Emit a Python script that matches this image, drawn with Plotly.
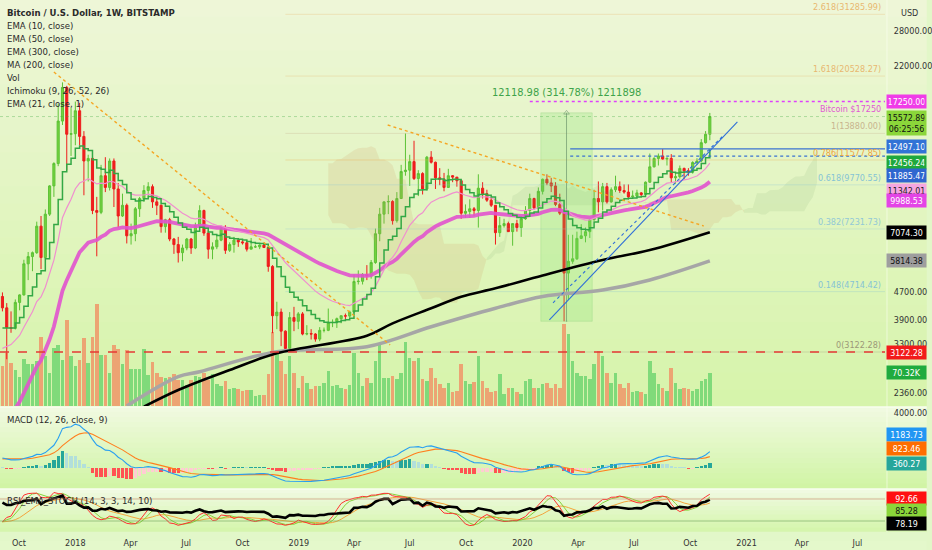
import numpy as np
import pandas as pd
import plotly.graph_objects as go

# ---------------- data (weekly candles, BITSTAMP BTCUSD) ----------------
FIRST_WEEK = "2017-09-04"

OPEN = [4560, 4220, 3690, 3670, 4380, 4610, 5700, 5990, 6150, 7370,
        5950, 8000, 9700, 11300, 15100, 19000, 13800, 13850, 16200, 13600,
        11500, 11700, 8200, 8100, 10400, 9600, 11500, 9500, 7900, 8500,
        6900, 7000, 8300, 8900, 9400, 9650, 8700, 8500, 7350, 7700,
        6750, 6500, 6150, 6350, 6750, 6350, 7400, 8200, 7030, 6300,
        6400, 6700, 7250, 6250, 6500, 6700, 6620, 6580, 6300, 6400,
        6400, 6480, 6370, 5600, 4000, 4100, 3600, 3200, 3950, 3850,
        4050, 3530, 3540, 3530, 3410, 3620, 3620, 3820, 3820, 3920,
        4000, 3990, 4100, 5050, 5060, 5300, 5250, 5750, 7000, 8000,
        8700, 8720, 7650, 8900, 10700, 10800, 11450, 10200, 10550, 9500,
        11800, 11400, 10250, 10150, 9600, 10400, 10300, 10050, 8050, 8150,
        8300, 8200, 9550, 9200, 8800, 8500, 7050, 7400, 7500, 7100,
        7500, 7300, 7750, 8200, 8900, 8350, 9350, 10150, 9900, 9700,
        8550, 8050, 5350, 5800, 5900, 6780, 6900, 7100, 7700, 8900,
        8700, 9650, 8700, 9450, 9650, 9400, 9300, 9000, 9050, 9250,
        9150, 9950, 11050, 11700, 11900, 11650, 11700, 10250, 10330, 10930,
        10750, 10670, 11380, 11500, 13030, 13800]

HIGH = [4690, 4360, 4120, 4470, 4630, 5860, 6180, 6200, 7600, 7900,
        8260, 9750, 11400, 17000, 19666, 19200, 16500, 17250, 17100, 14100,
        12000, 11800, 9000, 11200, 11800, 11700, 11700, 9900, 9200, 8600,
        7500, 8400, 9000, 9750, 9950, 9800, 8900, 8550, 7750, 7800,
        6800, 6850, 6500, 6800, 6800, 7550, 8500, 8250, 7150, 6600,
        6900, 7400, 7420, 6600, 6850, 6800, 6700, 6700, 6800, 6500,
        6500, 6550, 6400, 5650, 4400, 4200, 3620, 4100, 4250, 4100,
        4100, 3750, 3650, 3550, 3700, 3690, 4200, 3900, 3950, 4000,
        4060, 4140, 5300, 5450, 5350, 5650, 5850, 7250, 8350, 8700,
        9100, 8800, 9300, 11200, 13880, 12000, 13200, 10800, 10650, 11900,
        12300, 11450, 10950, 10600, 10900, 10450, 10300, 10050, 8550, 8850,
        8400, 10500, 9950, 9450, 8950, 8500, 7850, 7750, 7600, 7500,
        7700, 7800, 8450, 9200, 8950, 9600, 10200, 10500, 10250, 9950,
        9200, 8150, 6950, 6950, 7100, 7470, 7300, 7750, 9450, 10000,
        9900, 9900, 9600, 10400, 10000, 9800, 9800, 9400, 9450, 9300,
        10000, 12100, 11800, 12100, 12470, 11800, 12050, 10600, 11150, 10990,
        10950, 11480, 11720, 13350, 14100, 15960]

LOW = [4120, 2972, 3560, 3640, 4150, 4590, 5100, 5420, 6100, 5500,
       5880, 7900, 9000, 11100, 14700, 10800, 11900, 12800, 12800, 9100,
       10000, 8000, 6000, 8000, 9300, 9400, 8400, 7300, 7850, 6550,
       6500, 6650, 7850, 8700, 9050, 8350, 7950, 7050, 7050, 6650,
       6100, 5750, 5800, 6250, 6100, 6300, 7350, 6900, 5900, 5880,
       6300, 6650, 6100, 6180, 6150, 6400, 6500, 6200, 6300, 6350,
       6300, 6350, 5400, 3550, 3650, 3250, 3122, 3180, 3600, 3650,
       3500, 3500, 3400, 3350, 3360, 3570, 3600, 3700, 3680, 3800,
       3900, 3950, 4100, 4950, 4950, 5100, 5150, 5700, 6650, 7500,
       8000, 7450, 7550, 8900, 10400, 9700, 10100, 9050, 9150, 9400,
       11300, 9500, 9750, 9350, 9600, 9950, 9650, 7750, 7800, 7800,
       7900, 7300, 8900, 8700, 8400, 6500, 6850, 7300, 7100, 6450,
       7100, 6850, 7700, 8100, 8250, 8300, 9150, 9750, 9300, 8450,
       7950, 3850, 4450, 5700, 5850, 6750, 6600, 6800, 7650, 8100,
       8200, 8600, 8650, 9300, 9250, 9200, 8850, 8950, 9000, 9050,
       9100, 9900, 11000, 11150, 11600, 11150, 9900, 9850, 10200, 10150,
       10400, 10550, 11200, 11400, 12950, 13250]

CLOSE = [4220, 3690, 3670, 4380, 4610, 5700, 5990, 6150, 7370, 5950,
         8000, 9700, 11300, 15100, 19000, 13800, 13850, 16200, 13600, 11500,
         11700, 8200, 8100, 10400, 9600, 11500, 9500, 7900, 8500, 6900,
         7000, 8300, 8900, 9400, 9650, 8700, 8500, 7350, 7700, 6750,
         6500, 6150, 6350, 6750, 6350, 7400, 8200, 7030, 6300, 6400,
         6700, 7250, 6250, 6500, 6700, 6620, 6580, 6300, 6400, 6400,
         6480, 6370, 5600, 4000, 4100, 3600, 3200, 3950, 3850, 4050,
         3530, 3540, 3530, 3410, 3620, 3620, 3820, 3820, 3920, 4000,
         3990, 4100, 5050, 5060, 5300, 5250, 5750, 7000, 8000, 8700,
         8720, 7650, 8900, 10700, 10800, 11450, 10200, 10550, 9500, 11800,
         11400, 10250, 10150, 9600, 10400, 10300, 10050, 8050, 8150, 8300,
         8200, 9550, 9200, 8800, 8500, 7050, 7400, 7500, 7100, 7500,
         7300, 7750, 8200, 8900, 8350, 9350, 10150, 9900, 9700, 8550,
         8050, 5350, 5800, 5900, 6780, 6900, 7100, 7700, 8900, 8700,
         9650, 8700, 9450, 9650, 9400, 9300, 9000, 9050, 9250, 9150,
         9950, 11050, 11700, 11900, 11650, 11700, 10250, 10330, 10930, 10750,
         10670, 11380, 11500, 13030, 13800, 15572.89]

# weekly volume, thousands of BTC
VOLUME_K = [85, 113,
            92, 77, 62, 100, 89, 89, 96, 147, 106, 70, 124, 130, 98, 183, 106, 85, 98, 145, 92, 147,
            217, 109, 109, 70, 130, 121, 89, 119, 79, 79, 79, 121, 66, 94, 70, 62, 60, 62, 68, 55,
            56, 45, 56, 64, 62, 70, 56, 68, 47, 43, 53, 36, 38, 36, 32, 34, 34, 21, 23, 23, 68, 157,
            115, 96, 68, 106, 70, 38, 64, 49, 36, 43, 43, 49, 75, 43, 45, 38, 36, 45, 113, 70,
            43, 60, 50, 96, 131, 60, 60, 64, 57, 71, 136, 102, 96, 102, 57, 53, 80, 60, 46, 39,
            50, 29, 32, 89, 53, 46, 52, 107, 53, 39, 29, 32, 68, 25, 39, 39, 29, 25, 53, 57, 39,
            39, 46, 50, 39, 46, 39, 174,
            153, 96, 71, 64, 64, 57, 89, 117, 106, 71, 50, 71, 46, 39, 50, 29, 32, 30, 25, 96,
            71, 46, 39, 32, 82, 50, 36, 39, 36, 32, 36, 53, 57, 70.32]

# indicator values at the left edge of the chart
EMA10_SEED, EMA21_SEED, EMA50_SEED = 3555, 3100, 1800
EMA12_SEED, EMA26_SEED, SIGNAL_SEED = 3850, 3100, 650
RSI_GAIN_SEED, RSI_LOSS_SEED = 300, 100

# long averages
EMA300_DATES = ["2018-04-23", "2018-06-18", "2018-09-10", "2018-11-26", "2019-04-22", "2019-06-03",
                "2019-08-05", "2019-09-23", "2019-11-18", "2020-02-03", "2020-05-11", "2020-07-27", "2020-11-02"]
EMA300_VALUES = [2150, 2409, 2760, 3095, 3490, 3797, 4209, 4555, 4822, 5265, 5850, 6263, 7074.30]
MA200_DATES = ["2018-03-26", "2018-06-18", "2018-07-23", "2018-11-26", "2019-04-22", "2019-08-05",
               "2019-11-18", "2020-02-03", "2020-05-11", "2020-07-27", "2020-11-02"]
MA200_VALUES = [2160, 2638, 2729, 3129, 3237, 3710, 4209, 4560, 4765, 5106, 5814.38]

# drawings
FIB_NAMES = ["0", "0.148", "0.382", "0.618", "0.786", "1", "1.618", "2.618"]
FIB_RATIOS = [0, 0.148, 0.382, 0.618, 0.786, 1, 1.618, 2.618]
FIB_COLORS = ["#9c9878", "#86c4d4", "#92c9d6", "#86c4d4", "#f0a640", "#c8b48e", "#e8b870", "#e8b870"]
FIB_LOW, FIB_HIGH = 3122.28, 13880.00
FIB_START = "2018-12-10"

TREND_LINES = [  # (date0, price0, date1, price1, color, dash, width)
    ("2017-11-27", 21100, "2019-05-30", 3276, "#f5a623", "dot", 1.4),
    ("2019-05-26", 14703, "2020-10-23", 7379, "#f5a623", "dot", 1.4),
    ("2020-02-14", 3885, "2020-12-17", 15005, "#2f6fd8", "solid", 1.1),
    ("2020-02-20", 4369, "2020-11-25", 13728, "#2f6fd8", "dot", 1.1),
]
RAYS = [  # (start date, price, color, dash, width)
    ("2017-08-31", 3122.28, "#e53935", "dash", 1.6),
    ("2020-01-13", 17250.00, "#e040fb", "dot", 1.4),
    ("2020-03-19", 12497.10, "#3a72d0", "solid", 1.3),
    ("2020-03-19", 11885.47, "#3a72d0", "dot", 1.3),
    ("2017-08-31", 15572.89, "rgba(60,170,60,0.35)", "dot", 1),
]
MEASURE_DATES = ["2020-01-31", "2020-03-13", "2020-04-24"]
MEASURE_PRICES = [3850.01, 15968.99]
MEASURE_TEXT = "12118.98 (314.78%) 1211898"

X_RANGE = ["2017-08-31", "2021-08-15"]
PRICE_RANGE = [2160, 34500]
VOL_TOP = 865
MACD_RANGE = [-1450, 4350]
RSI_RANGE = [-10, 104.5]
RSI_BANDS = [80, 20]

PRICE_TICKS = [2360, 3300, 3900, 4700, 22000, 28000, 34000]
MACD_TICKS = [4000]
X_TICKS = ["2017-10-01", "2018-01-01", "2018-04-01", "2018-07-01", "2018-10-01", "2019-01-01",
           "2019-04-01", "2019-07-01", "2019-10-01", "2020-01-01", "2020-04-01", "2020-07-01",
           "2020-10-01", "2021-01-01", "2021-04-01", "2021-07-01"]
X_TICKTEXT = ["Oct", "2018", "Apr", "Jul", "Oct", "2019", "Apr", "Jul", "Oct", "2020",
              "Apr", "Jul", "Oct", "2021", "Apr", "Jul"]

PRICE_LABELS = [  # (value, text, bg, fg, yshift)
    (17250.00, "17250.00", "#f03ce8", "white", 0),
    (15572.89, "15572.89<br>06:25:56", "#8bd63a", "#111", 7),
    (12497.10, "12497.10", "#3273d6", "white", 2),
    (12456.24, "12456.24", "#1fa83c", "white", -13),
    (11885.47, "11885.47", "#2f66cf", "white", -19),
    (11342.01, "11342.01", "#f6a6e0", "#222", -27),
    (9988.53, "9988.53", "#e444e6", "white", -19),
    (7074.30, "7074.30", "#000000", "white", 0),
    (5814.38, "5814.38", "#9e9e9e", "#111", 0),
    (3122.28, "3122.28", "#f21b1b", "white", 0),
]
VOL_LABEL = (70.32, "70.32K", "#1fab3e", "white")
MACD_LABELS = [(1183.73, "1183.73", "#2196f3", 17), (823.46, "823.46", "#ff6d00", 8),
               (360.27, "360.27", "#26a69a", 0)]
RSI_LABELS = [(92.66, "92.66", "#ff1010", "white", -4), (85.28, "85.28", "#8bd63a", "#111", -13),
              (78.19, "78.19", "#000000", "white", -24)]

LEGEND_LINES = ["<b>Bitcoin / U.S. Dollar, 1W, BITSTAMP</b>", "EMA (10, close)", "EMA (50, close)",
                "EMA (300, close)", "MA (200, close)", "Vol", "Ichimoku (9, 26, 52, 26)",
                "EMA (21, close, 1)"]

for arr in (OPEN, HIGH, LOW, CLOSE, VOLUME_K):
    assert len(arr) == len(CLOSE), len(arr)

# ---------------- indicators ----------------
N = len(CLOSE)
ICHI_SHIFT = 25
dates = pd.date_range(FIRST_WEEK, periods=N, freq="7D")
ext_dates = pd.date_range(FIRST_WEEK, periods=N + ICHI_SHIFT, freq="7D")
o, h, l, c = (np.array(a, float) for a in (OPEN, HIGH, LOW, CLOSE))


def ema(values, span, seed):
    a = 2.0 / (span + 1)
    out, prev = [], seed
    for v in values:
        prev = a * v + (1 - a) * prev
        out.append(prev)
    return np.array(out)


ema10 = ema(c, 10, EMA10_SEED)
ema21 = ema(c, 21, EMA21_SEED)
ema50 = ema(c, 50, EMA50_SEED)
macd = ema(c, 12, EMA12_SEED) - ema(c, 26, EMA26_SEED)
signal = ema(macd, 9, SIGNAL_SEED)
hist = macd - signal

prev_close = np.concatenate([[o[0]], c[:-1]])
chg = c - prev_close
ag, al, rsi = RSI_GAIN_SEED, RSI_LOSS_SEED, []
for d in chg:
    ag = (ag * 13 + max(d, 0)) / 14
    al = (al * 13 + max(-d, 0)) / 14
    rsi.append(100 - 100 / (1 + ag / al))
rsi = pd.Series(rsi)

hs, ls, cs = pd.Series(h), pd.Series(l), pd.Series(c)
hh14, ll14 = hs.rolling(14, min_periods=1).max(), ls.rolling(14, min_periods=1).min()
raw = 100 * (cs - ll14) / (hh14 - ll14)
stoch_k = raw.rolling(3, min_periods=1).mean()
stoch_d = stoch_k.rolling(3, min_periods=1).mean()
stoch_e = pd.Series(ema(stoch_d.values, 10, stoch_d.values[0]))

tenkan = (hs.rolling(9).max() + ls.rolling(9).min()) / 2
kijun = (hs.rolling(26).max() + ls.rolling(26).min()) / 2
span_a = np.full(N + ICHI_SHIFT, np.nan)
span_b = np.full(N + ICHI_SHIFT, np.nan)
span_a[ICHI_SHIFT:] = ((tenkan + kijun) / 2).values
span_b[ICHI_SHIFT:] = ((hs.rolling(52).max() + ls.rolling(52).min()) / 2).values

# ---------------- figure ----------------
fig = go.Figure()
WEEK_MS = 7 * 24 * 3600 * 1000

# volume (base axis, drawn beneath price)
vol_colors = ["#80da7a" if c[i] >= o[i] else "#eca473" for i in range(N)]
fig.add_trace(go.Bar(x=dates, y=VOLUME_K, marker_color=vol_colors, marker_line_width=0,
                     width=WEEK_MS * 0.82, xaxis="x", yaxis="y", hoverinfo="skip"))

# ichimoku cloud
valid = ~np.isnan(span_a) & ~np.isnan(span_b)
idx = np.where(valid)[0]
runs, start = [], idx[0]
for k in range(1, len(idx) + 1):
    end = k == len(idx) or idx[k] != idx[k - 1] + 1 or \
        (span_a[idx[k]] >= span_b[idx[k]]) != (span_a[idx[k - 1]] >= span_b[idx[k - 1]])
    if end:
        runs.append((start, idx[k - 1]))
        if k < len(idx):
            start = idx[k]
for s, e in runs:
    e2 = min(e + 1, idx[-1])
    seg = list(range(s, e2 + 1))
    bull = span_a[s] >= span_b[s]
    xs = list(ext_dates[seg]) + list(ext_dates[seg][::-1])
    ys = list(span_a[seg]) + list(span_b[seg][::-1])
    fig.add_trace(go.Scatter(x=xs, y=ys, fill="toself", mode="lines", line_width=0,
                             fillcolor="rgba(95,150,85,0.10)" if bull else "rgba(205,150,95,0.16)",
                             xaxis="x", yaxis="y2", hoverinfo="skip"))

# fibonacci levels
fib_vals = [FIB_LOW + r * (FIB_HIGH - FIB_LOW) for r in FIB_RATIOS]
for v, col in zip(fib_vals, FIB_COLORS):
    fig.add_trace(go.Scatter(x=[FIB_START, X_RANGE[1]], y=[v, v], mode="lines",
                             line=dict(color=col, width=1), opacity=0.3, xaxis="x", yaxis="y2",
                             hoverinfo="skip"))

# measurement box
mx0, mxc, mx1 = MEASURE_DATES
mlo, mhi = MEASURE_PRICES
fig.add_trace(go.Scatter(x=[mx0, mx1, mx1, mx0, mx0], y=[mlo, mlo, mhi, mhi, mlo], fill="toself",
                         mode="lines", line=dict(color="rgba(120,200,110,0.3)", width=0.8),
                         fillcolor="rgba(120,225,100,0.22)", xaxis="x", yaxis="y2", hoverinfo="skip"))
fig.add_trace(go.Scatter(x=[mxc, mxc], y=[mlo, mhi], mode="lines+markers",
                         line=dict(color="rgba(110,150,110,0.7)", width=1),
                         marker=dict(symbol=["line-ew", "triangle-up-open"], size=[1, 5],
                                     color="rgba(110,150,110,0.8)"),
                         xaxis="x", yaxis="y2", hoverinfo="skip"))

# long averages
fig.add_trace(go.Scatter(x=MA200_DATES, y=MA200_VALUES, mode="lines", line_shape="spline",
                         line=dict(color="#a6a6a6", width=3.5), xaxis="x", yaxis="y2", hoverinfo="skip"))
fig.add_trace(go.Scatter(x=EMA300_DATES, y=EMA300_VALUES, mode="lines", line_shape="spline",
                         line=dict(color="#000000", width=2.6), xaxis="x", yaxis="y2", hoverinfo="skip"))
fig.add_trace(go.Scatter(x=dates, y=ema50, mode="lines", line=dict(color="#e254cf", width=3.8),
                         opacity=0.9, xaxis="x", yaxis="y2", hoverinfo="skip"))
fig.add_trace(go.Scatter(x=dates, y=ema21, mode="lines", line=dict(color="#f08fcf", width=1.2),
                         xaxis="x", yaxis="y2", hoverinfo="skip"))
fig.add_trace(go.Scatter(x=dates, y=ema10, mode="lines", line_shape="hv",
                         line=dict(color="#33a845", width=1.5), xaxis="x", yaxis="y2", hoverinfo="skip"))

# trend lines and rays
for d0, p0, d1, p1, col, dash, w in TREND_LINES:
    fig.add_trace(go.Scatter(x=[d0, d1], y=[p0, p1], mode="lines",
                             line=dict(color=col, dash=dash, width=w), xaxis="x", yaxis="y2",
                             hoverinfo="skip"))
for d0, p, col, dash, w in RAYS:
    fig.add_trace(go.Scatter(x=[d0, X_RANGE[1]], y=[p, p], mode="lines",
                             line=dict(color=col, dash=dash, width=w), xaxis="x", yaxis="y2",
                             hoverinfo="skip"))

# candles
fig.add_trace(go.Candlestick(x=dates, open=o, high=h, low=l, close=c, xaxis="x", yaxis="y2",
                             increasing=dict(line=dict(color="#5cc236", width=1), fillcolor="#74d13e"),
                             decreasing=dict(line=dict(color="#ee1c1c", width=1), fillcolor="#f01e1e"),
                             whiskerwidth=0, hoverinfo="skip"))

# MACD
hcol = []
for i in range(N):
    prev = hist[i - 1] if i > 0 else hist[i]
    if hist[i] >= 0:
        hcol.append("#26a69a" if hist[i] > prev else "#b2dfdb")
    else:
        hcol.append("#ff5252" if hist[i] < prev else "#ffcdd2")
fig.add_trace(go.Bar(x=dates, y=hist, marker_color=hcol, marker_line_width=0, width=WEEK_MS * 0.78,
                     xaxis="x", yaxis="y3", hoverinfo="skip"))
fig.add_trace(go.Scatter(x=dates, y=signal, mode="lines", line=dict(color="#ff7f1e", width=1.1),
                         xaxis="x", yaxis="y3", hoverinfo="skip"))
fig.add_trace(go.Scatter(x=dates, y=macd, mode="lines", line=dict(color="#2aa0f0", width=1.1),
                         xaxis="x", yaxis="y3", hoverinfo="skip"))

# RSI / stoch
fig.add_trace(go.Scatter(x=dates, y=stoch_e, mode="lines", line=dict(color="#f3a43c", width=1),
                         xaxis="x", yaxis="y4", hoverinfo="skip"))
fig.add_trace(go.Scatter(x=dates, y=stoch_d, mode="lines", line=dict(color="#86d23a", width=1),
                         xaxis="x", yaxis="y4", hoverinfo="skip"))
fig.add_trace(go.Scatter(x=dates, y=stoch_k, mode="lines", line=dict(color="#ff3030", width=1),
                         xaxis="x", yaxis="y4", hoverinfo="skip"))
fig.add_trace(go.Scatter(x=dates, y=rsi, mode="lines", line=dict(color="#000000", width=2.6),
                         xaxis="x", yaxis="y4", hoverinfo="skip"))

# ---------------- layout ----------------
W, H_FIG = 932, 550
ML, MR, MT, MB = 0, 42, 0, 18
PH = H_FIG - MT - MB          # plot height in px
PW = W - ML - MR


def py(px):  # px from top of plot area -> paper y
    return (PH - px) / PH


MAIN_PX, MACD_PX, RSI_PX = (0, 406), (408, 488), (490, PH)
FONT = "Liberation Sans Narrow, DejaVu Sans Condensed, Arial Narrow, Liberation Sans, sans-serif"

shapes = []


def gradient(top_px, bot_px, c_top, c_bot, n=24):
    for k in range(n):
        t = (k + 0.5) / n
        col = tuple(int(round(a + (b - a) * t)) for a, b in zip(c_top, c_bot))
        y0 = top_px + (bot_px - top_px) * k / n
        y1 = top_px + (bot_px - top_px) * (k + 1) / n
        shapes.append(dict(type="rect", xref="paper", yref="paper", x0=0, x1=1 + MR / PW,
                           y0=py(y1) - 0.0005, y1=py(y0) + 0.0005, fillcolor="rgb(%d,%d,%d)" % col,
                           line_width=0, layer="below"))


gradient(MAIN_PX[0], MAIN_PX[1] + 1, (238, 246, 216), (214, 244, 170))
gradient(MACD_PX[0] - 1, MACD_PX[1] + 1, (241, 250, 226), (208, 244, 163), 16)
gradient(RSI_PX[0] - 1, RSI_PX[1], (241, 250, 228), (212, 245, 170), 10)
gradient(PH, H_FIG, (226, 247, 200), (228, 248, 204), 2)
for sep in (407, 489):
    shapes.append(dict(type="line", xref="paper", yref="paper", x0=0, x1=1 + MR / PW,
                       y0=py(sep), y1=py(sep), line=dict(color="rgba(250,253,240,0.9)", width=1.5),
                       layer="below"))
shapes.append(dict(type="line", xref="paper", yref="paper", x0=1 + 2 / PW, x1=1 + 2 / PW, y0=py(PH), y1=1,
                   line=dict(color="rgba(250,253,240,0.6)", width=1), layer="below"))
for v, col in zip(RSI_BANDS, ["rgba(205,150,120,0.7)", "rgba(110,165,90,0.6)"]):
    shapes.append(dict(type="line", xref="paper", yref="y4", x0=0, x1=1, y0=v, y1=v,
                       line=dict(color=col, width=1)))

ann = []
for k, txt in enumerate(LEGEND_LINES):
    ann.append(dict(xref="paper", yref="paper", x=5 / PW, y=py(12.3 + 13 * k), xanchor="left",
                    yanchor="middle", text=txt, showarrow=False, font=dict(size=9.5, color="#2a2a2a")))
ann.append(dict(xref="paper", yref="paper", x=5 / PW, y=py(419), xanchor="left", yanchor="middle",
                text="MACD (12, 26, close, 9)", showarrow=False, font=dict(size=9.5, color="#2a2a2a")))
ann.append(dict(xref="paper", yref="paper", x=5 / PW, y=py(500.5), xanchor="left", yanchor="middle",
                text="RSI_EMA_STOCH (14, 3, 3, 14, 10)", showarrow=False, font=dict(size=9.5, color="#2a2a2a")))
ann.append(dict(xref="paper", yref="paper", x=1 + 14 / PW, y=py(13), xanchor="left", yanchor="middle",
                text="USD", showarrow=False, font=dict(size=9, color="#333")))

for name, v, col in zip(FIB_NAMES, fib_vals, FIB_COLORS):
    ann.append(dict(xref="paper", yref="y2", x=1 - 2 / PW, y=np.log10(v), xanchor="right",
                    yanchor="bottom", text="%s(%.2f)" % (name, v), showarrow=False, yshift=0,
                    font=dict(size=9, color=col)))
ann.append(dict(xref="paper", yref="y2", x=1 - 2 / PW, y=np.log10(17250), xanchor="right", yanchor="top",
                text="Bitcoin $17250", showarrow=False, font=dict(size=9, color="#e05ad2")))
ann.append(dict(xref="x", yref="y2", x=mxc, y=np.log10(mhi), xanchor="center", yanchor="bottom",
                yshift=12, text=MEASURE_TEXT, showarrow=False, font=dict(size=11, color="#3ea34a")))

BOX = dict(xanchor="left", yanchor="middle", showarrow=False, borderpad=1.5, width=36, align="center")
LX = 1 + 1.5 / PW
for v, txt, bg, fg, ys in PRICE_LABELS:
    a = dict(xref="paper", yref="y2", x=LX, y=np.log10(v), text=txt, bgcolor=bg,
             font=dict(size=8.8, color=fg), yshift=ys, **BOX)
    if "<br>" in txt:
        a["yanchor"] = "top"
    ann.append(a)
ann.append(dict(xref="paper", yref="y", x=LX, y=VOL_LABEL[0], text=VOL_LABEL[1], bgcolor=VOL_LABEL[2],
                font=dict(size=8.8, color=VOL_LABEL[3]), **BOX))
for v, txt, bg, ys in MACD_LABELS:
    ann.append(dict(xref="paper", yref="y3", x=LX, y=v, text=txt, bgcolor=bg,
                    font=dict(size=8.8, color="white"), yshift=ys, **BOX))
for v, txt, bg, fg, ys in RSI_LABELS:
    ann.append(dict(xref="paper", yref="y4", x=LX, y=v, text=txt, bgcolor=bg,
                    font=dict(size=8.8, color=fg), yshift=ys, **BOX))

tick_font = dict(size=9, color="#333333")
fig.update_layout(
    width=W, height=H_FIG, autosize=False,
    margin=dict(l=ML, r=MR, t=MT, b=MB, pad=0),
    paper_bgcolor="rgb(226,247,200)", plot_bgcolor="rgba(0,0,0,0)",
    font=dict(family=FONT, size=9, color="#333"),
    showlegend=False, bargap=0, barmode="overlay",
    boxgap=0.3,
    shapes=shapes, annotations=ann,
    xaxis=dict(domain=[0, 1], range=X_RANGE, anchor="y4", type="date", showgrid=False, zeroline=False,
               tickvals=X_TICKS, ticktext=X_TICKTEXT, tickfont=tick_font, ticks="", showline=False,
               rangeslider=dict(visible=False), ticklabelstandoff=4),
    yaxis=dict(domain=[py(MAIN_PX[1]), 1], range=[0, VOL_TOP], visible=False, fixedrange=True),
    yaxis2=dict(overlaying="y", type="log", range=[np.log10(PRICE_RANGE[0]), np.log10(PRICE_RANGE[1])],
                side="right", anchor="x", tickvals=PRICE_TICKS, tickformat=".2f", tickfont=tick_font,
                showgrid=False, zeroline=False, ticks="outside", ticklen=6, tickcolor="rgba(0,0,0,0)"),
    yaxis3=dict(domain=[py(MACD_PX[1]), py(MACD_PX[0])], range=MACD_RANGE, side="right", anchor="x",
                tickvals=MACD_TICKS, tickformat=".2f", tickfont=tick_font, showgrid=False, zeroline=False,
                ticks="outside", ticklen=6, tickcolor="rgba(0,0,0,0)"),
    yaxis4=dict(domain=[0, py(RSI_PX[0])], range=RSI_RANGE, side="right", anchor="x",
                showticklabels=False, showgrid=False, zeroline=False),
)

fig.write_html("out.html", config={"displayModeBar": False},
               post_script="document.body.style.margin='0px';")
